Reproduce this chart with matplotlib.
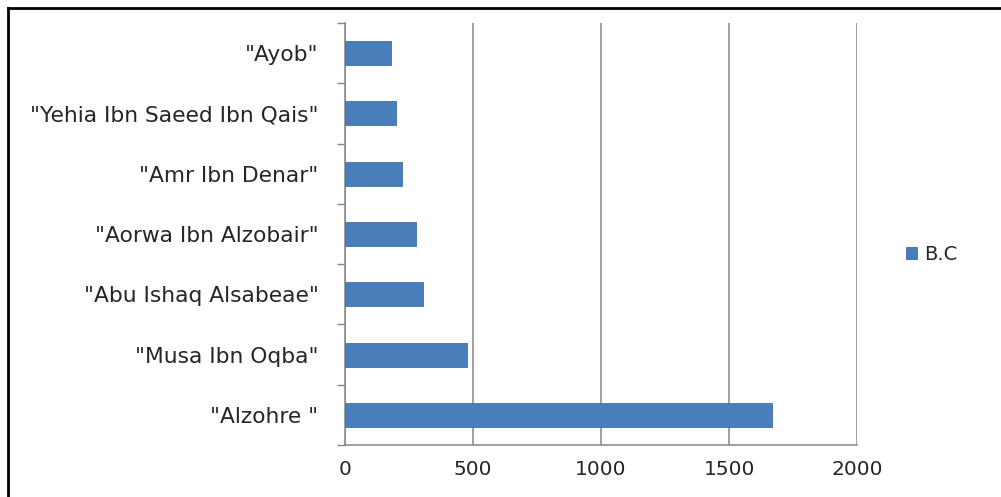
import matplotlib
matplotlib.use("Agg")
import matplotlib.pyplot as plt
from matplotlib.lines import Line2D

categories = ['"Alzohre "', '"Musa Ibn Oqba"', '"Abu Ishaq Alsabeae"',
              '"Aorwa Ibn Alzobair"', '"Amr Ibn Denar"',
              '"Yehia Ibn Saeed Ibn Qais"', '"Ayob"']
values = [1668, 478, 304, 279, 222, 198, 180]
series_name = "B.C"
xticks = [0, 500, 1000, 1500, 2000]

plt.rcParams['font.family'] = ['DejaVu Sans']

W, H = 1001, 497
fig = plt.figure(figsize=(W / 100, H / 100), dpi=100)
ax = fig.add_axes([345 / W, (H - 445) / H, (857 - 345) / W, (445 - 23) / H])

bar_color = '#4A7EBB'
grid_color = '#868686'
text_color = '#262626'
ypos = list(range(len(categories)))
ax.barh(ypos, values, height=0.4, color=bar_color, edgecolor='#3F6FA8',
        linewidth=0.6, label=series_name, zorder=3)

ax.set_xlim(0, 2000)
ax.set_ylim(-0.5, len(categories) - 0.5)
ax.set_xticks(xticks)
ax.set_xticklabels([str(t) for t in xticks], fontsize=14.5, color=text_color)
ax.set_yticks(ypos)
ax.set_yticklabels(categories, fontsize=15.7, color=text_color)
ax.tick_params(axis='y', length=0, pad=19)
ax.tick_params(axis='x', length=0, pad=11)

# category boundary ticks
ax.set_yticks([i - 0.5 for i in range(len(categories) + 1)], minor=True)
ax.tick_params(axis='y', which='minor', length=6, width=1, color=grid_color, direction='out')
ax.set_xticks(xticks, minor=True)
ax.tick_params(axis='x', which='minor', length=5, width=1, color=grid_color, direction='out')

ax.grid(axis='x', color=grid_color, linewidth=1.1, zorder=0)
for s in ['top', 'right']:
    ax.spines[s].set_visible(False)
ax.spines['left'].set_color(grid_color)
ax.spines['bottom'].set_color(grid_color)
ax.spines['left'].set_linewidth(1.1)
ax.spines['bottom'].set_linewidth(1.1)

leg = fig.legend(loc='center left', bbox_to_anchor=(888 / W, (H - 254) / H),
                 frameon=False, fontsize=14, handlelength=0.58, handleheight=0.58,
                 handletextpad=0.4)
for t in leg.get_texts():
    t.set_color(text_color)

# outer frame (top and left)
fig.add_artist(Line2D([8 / W, 1.0], [1 - 8 / H, 1 - 8 / H], color='black', linewidth=2,
                      transform=fig.transFigure))
fig.add_artist(Line2D([8 / W, 8 / W], [0, 1 - 8 / H], color='black', linewidth=2,
                      transform=fig.transFigure))

fig.savefig("out.png", dpi=100)
